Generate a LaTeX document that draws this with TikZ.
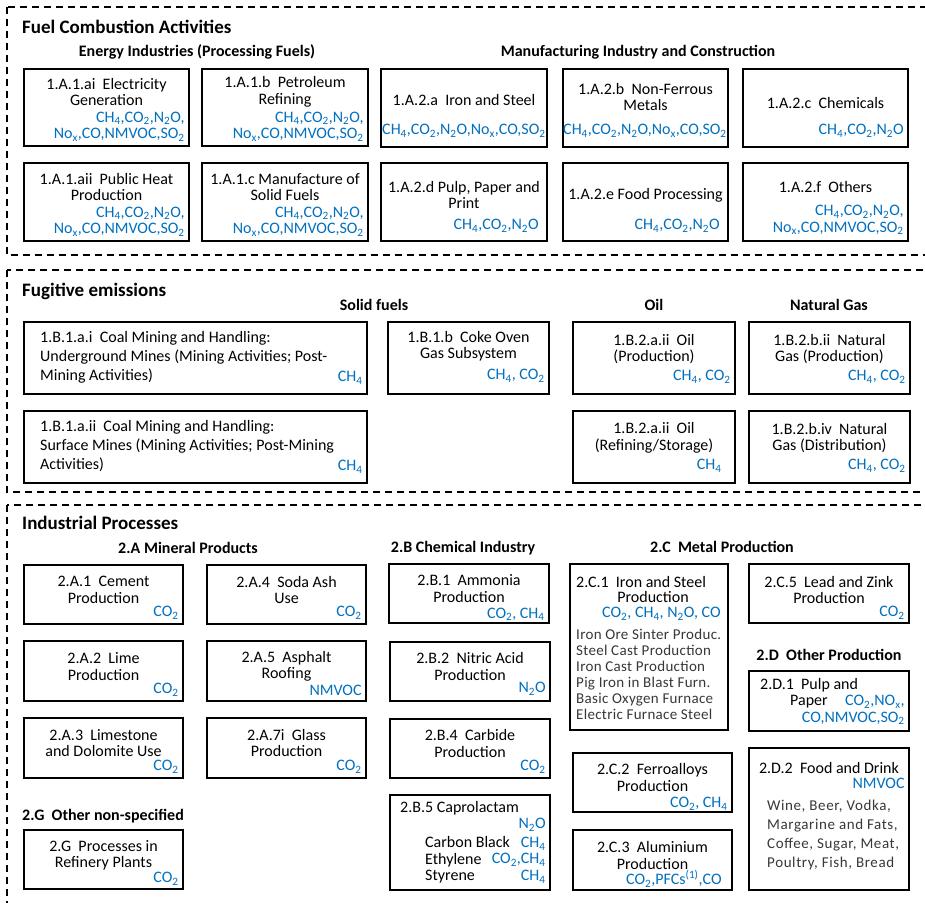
\documentclass[tikz,border=0pt]{standalone}
\usepackage{fontspec}
\setmainfont{Carlito}
\definecolor{gasblue}{RGB}{0,112,192}
\newcommand{\sbs}[1]{\textsubscript{#1}}
\newcommand{\spc}{\ \ }
\newcommand{\gall}{CH\sbs4,CO\sbs2,N\sbs2O,\\No\sbs{x},CO,NMVOC,SO\sbs2}
\newcommand{\gsix}{CH\sbs4,CO\sbs2,N\sbs2O,No\sbs{x},CO,SO\sbs2}
\newcommand{\gthree}{CH\sbs4,CO\sbs2,N\sbs2O}
\newcommand{\bx}[5]{\node[bx, minimum width={#4-#2}, minimum height={#5-#3}] (#1) at ({(#2+#4)/2},{(#3+#5)/2}) {};}
\newcommand{\ttxt}[3]{\node[ttl] (#1-t) at (#1.center |- 0,#2) {#3};}
\newcommand{\gtxt}[3]{\node[gas] (#1-g) at (#1.east |- 0,#2) {#3};}
\tikzset{
  bx/.style={draw=black, line width=1.6pt, inner sep=0pt, rectangle},
  sect/.style={draw=black, line width=1.2pt, dash pattern=on 7pt off 5pt},
  ttl/.style={font=\fontsize{16}{16.5}\selectfont, align=center, inner sep=0pt},
  ttlL/.style={font=\fontsize{16}{19}\selectfont, align=left, inner sep=0pt, anchor=west},
  gas/.style={font=\fontsize{16}{16.5}\selectfont, text=gasblue, align=right, inner sep=0pt, anchor=east, xshift=-5pt},
  head/.style={font=\bfseries\fontsize{19}{21}\selectfont, inner sep=0pt, anchor=west},
  subh/.style={font=\bfseries\fontsize{16}{18}\selectfont, inner sep=0pt},
  lst/.style={text=black!78, align=left, inner sep=0pt, anchor=west},
}
\begin{document}
\begin{tikzpicture}[x=1pt, y=-1pt]
\useasboundingbox (0,0) rectangle (925,902);
\clip (0,0) rectangle (925,902);
\fill[white] (0,0) rectangle (925,902);
% section frames
\draw[sect] (7,7) rectangle (945,255);
\draw[sect] (7,270) rectangle (945,492);
\draw[sect] (7,505) rectangle (945,930);

% ---------------- Fuel Combustion
\node[head] (h1) at (22,27) {Fuel Combustion Activities};
\node[subh] (h1a) at (197,52) {Energy Industries (Processing Fuels)};
\node[subh] (h1b) at (638,52) {Manufacturing Industry and Construction};

\bx{Aai}{24}{69}{189}{146}
\ttxt{Aai}{92}{1.A.1.ai\spc Electricity\\Generation}
\gtxt{Aai}{126.5}{\gall}
\bx{Ab}{202}{69}{368}{146}
\ttxt{Ab}{92}{1.A.1.b\spc Petroleum\\Refining}
\gtxt{Ab}{126.5}{\gall}
\bx{Aaii}{24}{163}{189}{241}
\ttxt{Aaii}{187}{1.A.1.aii\spc Public Heat\\Production}
\gtxt{Aaii}{221.5}{\gall}
\bx{Ac}{202}{163}{368}{241}
\ttxt{Ac}{187}{1.A.1.c Manufacture of\\Solid Fuels}
\gtxt{Ac}{221.5}{\gall}

\bx{Ma}{381}{69}{547}{147}
\ttxt{Ma}{100}{1.A.2.a\spc Iron and Steel}
\node[gas, xshift=3pt] (Ma-g) at (Ma.east |- 0,131) {\gsix};
\bx{Mb}{563}{69}{728}{147}
\ttxt{Mb}{97}{1.A.2.b\spc Non-Ferrous\\Metals}
\node[gas, xshift=3pt] (Mb-g) at (Mb.east |- 0,131) {\gsix};
\bx{Mc}{743}{69}{908}{147}
\ttxt{Mc}{103}{1.A.2.c\spc Chemicals}
\gtxt{Mc}{131}{\gthree}
\bx{Md}{381}{163}{547}{241}
\ttxt{Md}{195}{1.A.2.d Pulp, Paper and\\Print}
\node[gas, xshift=-4pt] (Md-g) at (Md.east |- 0,226) {\gthree};
\bx{Me}{563}{163}{728}{241}
\ttxt{Me}{195}{1.A.2.e Food Processing}
\node[gas, xshift=-4pt] (Me-g) at (Me.east |- 0,226) {\gthree};
\bx{Mf}{743}{163}{908}{241}
\ttxt{Mf}{187}{1.A.2.f\spc Others}
\gtxt{Mf}{220}{\gall}

% ---------------- Fugitive
\node[head] (h2) at (22,291) {Fugitive emissions};
\node[subh] (h2a) at (374,305) {Solid fuels};
\node[subh] (h2b) at (654,305) {Oil};
\node[subh] (h2c) at (829,305) {Natural Gas};

\bx{Bai}{24}{322}{367}{394}
\node[ttlL] (Bai-t) at (40,357) {1.B.1.a.i\spc Coal Mining and Handling:\\Underground Mines (Mining Activities; Post-\\Mining Activities)};
\gtxt{Bai}{378}{CH\sbs4}
\bx{Baii}{24}{411}{367}{483}
\node[ttlL] (Baii-t) at (40,446) {1.B.1.a.ii\spc Coal Mining and Handling:\\Surface Mines (Mining Activities; Post-Mining\\Activities)};
\gtxt{Baii}{467}{CH\sbs4}
\bx{Bb}{388}{322}{549}{394}
\ttxt{Bb}{346}{1.B.1.b\spc Coke Oven\\Gas Subsystem}
\gtxt{Bb}{376}{CH\sbs4, CO\sbs2}
\bx{Op}{573}{322}{735}{394}
\ttxt{Op}{349}{1.B.2.a.ii\spc Oil\\(Production)}
\gtxt{Op}{377}{CH\sbs4, CO\sbs2}
\bx{Or}{573}{411}{735}{483}
\ttxt{Or}{438}{1.B.2.a.ii\spc Oil\\(Refining/Storage)}
\node[gas, xshift=-9pt] (Or-g) at (Or.east |- 0,466) {CH\sbs4};
\bx{Np}{749}{322}{910}{394}
\ttxt{Np}{349}{1.B.2.b.ii\spc Natural\\Gas (Production)}
\gtxt{Np}{377}{CH\sbs4, CO\sbs2}
\bx{Nd}{749}{411}{910}{483}
\ttxt{Nd}{438}{1.B.2.b.iv\spc Natural\\Gas (Distribution)}
\gtxt{Nd}{466}{CH\sbs4, CO\sbs2}

% ---------------- Industrial
\node[head] (h3) at (22,523) {Industrial Processes};
\node[subh] (h3a) at (188,548) {2.A Mineral Products};
\node[subh] (h3b) at (463,548) {2.B Chemical Industry};
\node[subh] (h3c) at (722,547) {2.C\spc Metal Production};
\node[subh] (h3d) at (829,655) {2.D\spc Other Production};
\node[subh, anchor=west] (h3g) at (22,816) {2.G\spc Other non-specified};

\bx{Pa}{24}{565}{183}{624}
\ttxt{Pa}{590}{2.A.1\spc Cement\\Production}
\gtxt{Pa}{613}{CO\sbs2}
\bx{Pd}{207}{565}{366}{624}
\ttxt{Pd}{590}{2.A.4\spc Soda Ash\\Use}
\gtxt{Pd}{613}{CO\sbs2}
\bx{Pb}{24}{641}{183}{701}
\ttxt{Pb}{666.5}{2.A.2\spc Lime\\Production}
\gtxt{Pb}{690}{CO\sbs2}
\bx{Pe}{207}{641}{366}{701}
\ttxt{Pe}{666.5}{2.A.5\spc Asphalt\\Roofing}
\gtxt{Pe}{690}{NMVOC}
\bx{Pc}{24}{718}{183}{778}
\ttxt{Pc}{743}{2.A.3\spc Limestone\\and Dolomite Use}
\gtxt{Pc}{767}{CO\sbs2}
\bx{Pf}{207}{718}{366}{778}
\ttxt{Pf}{743}{2.A.7i\spc Glass\\Production}
\gtxt{Pf}{767}{CO\sbs2}
\bx{Pg}{24}{830}{183}{889}
\ttxt{Pg}{855.5}{2.G\spc Processes in\\Refinery Plants}
\gtxt{Pg}{879}{CO\sbs2}

\bx{Qa}{389}{564}{549}{623}
\ttxt{Qa}{588.5}{2.B.1\spc Ammonia\\Production}
\gtxt{Qa}{614.5}{CO\sbs2, CH\sbs4}
\bx{Qb}{390}{642}{550}{701}
\ttxt{Qb}{666.5}{2.B.2\spc Nitric Acid\\Production}
\gtxt{Qb}{689}{N\sbs2O}
\bx{Qd}{390}{719}{550}{778}
\ttxt{Qd}{743.5}{2.B.4\spc Carbide\\Production}
\gtxt{Qd}{767}{CO\sbs2}
\bx{Qe}{390}{795}{550}{890}
\node[ttl, anchor=west] (Qe-t) at (400,808) {2.B.5 Caprolactam};
\gtxt{Qe}{825}{N\sbs2O}
\node[ttl, align=left, anchor=west] (Qe-t2) at (425,860) {Carbon Black\\Ethylene\\Styrene};
\node[gas] (Qe-g2) at (Qe.east |- 0,860) {CH\sbs4\\CO\sbs2,CH\sbs4\\CH\sbs4};

\bx{Ca}{570}{564}{728}{730}
\node[ttl, anchor=west] (Ca-t) at (576,582) {2.C.1\spc Iron and Steel};
\node[ttl] (Ca-t2) at (653,597) {Production};
\node[gas, xshift=-3pt] (Ca-g) at (Ca.east |- 0,614) {CO\sbs2, CH\sbs4, N\sbs2O, CO};
\node[lst, font=\fontsize{15}{16}\selectfont\addfontfeature{LetterSpace=2}] (Ca-l) at (576,674) {Iron Ore Sinter Produc.\\Steel Cast Production\\Iron Cast Production\\Pig Iron in Blast Furn.\\Basic Oxygen Furnace\\Electric Furnace Steel};
\bx{Cb}{573}{753}{732}{812}
\ttxt{Cb}{777.5}{2.C.2\spc Ferroalloys\\Production}
\gtxt{Cb}{804}{CO\sbs2, CH\sbs4}
\bx{Cc}{573}{830}{732}{890}
\ttxt{Cc}{855.5}{2.C.3\spc Aluminium\\Production}
\node[gas, xshift=-6pt] (Cc-g) at (Cc.east |- 0,879) {CO\sbs2,PFCs\textsuperscript{(1)},CO};
\bx{Ce}{749}{564}{909}{623}
\ttxt{Ce}{590}{2.C.5\spc Lead and Zink\\Production}
\gtxt{Ce}{613}{CO\sbs2}

\bx{Da}{749}{671}{909}{731}
\node[ttl, anchor=west] (Da-t) at (760,685) {2.D.1\spc Pulp and};
\node[ttl, anchor=west] (Da-t2) at (790,702) {Paper};
\gtxt{Da}{710}{CO\sbs2,NO\sbs{x},\\CO,NMVOC,SO\sbs2}
\bx{Db}{749}{748}{909}{890}
\ttxt{Db}{768}{2.D.2\spc Food and Drink}
\gtxt{Db}{783}{NMVOC}
\node[lst, font=\fontsize{15}{18.7}\selectfont\addfontfeature{LetterSpace=4}] (Db-l) at (767,835) {Wine, Beer, Vodka,\\Margarine and Fats,\\Coffee, Sugar, Meat,\\Poultry, Fish, Bread};
\end{tikzpicture}
\end{document}
